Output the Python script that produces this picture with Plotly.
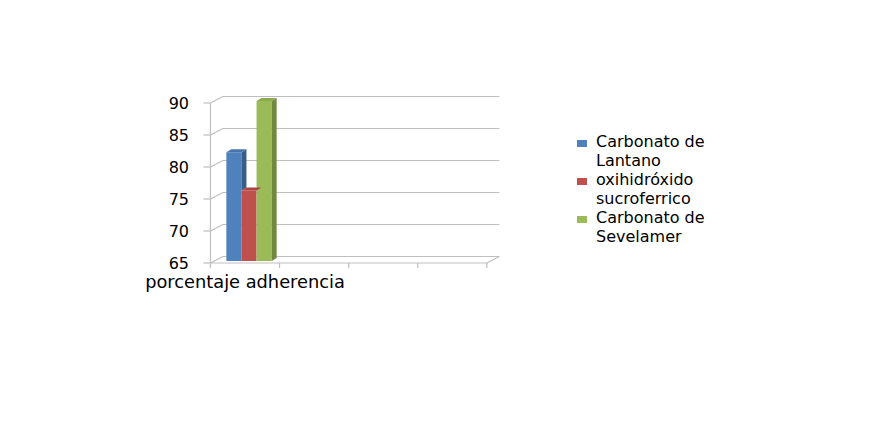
import textwrap
import plotly.graph_objects as go

# ---------------- data ----------------
categories = ["porcentaje adherencia", "", "", ""]
series_names = ["Carbonato de Lantano", "oxihidróxido sucroferrico", "Carbonato de Sevelamer"]
series_values = [82, 76, 90]
y_ticks = [65, 70, 75, 80, 85, 90]

# ---------------- styles ----------------
front_colors = ["#4F81BD", "#C0504D", "#9BBB59"]
side_colors = ["#385D8A", "#8C3836", "#71893F"]
top_colors = ["#4675AE", "#A94644", "#8BAA4E"]
grid_color = "#BFBFBF"
FONT = "DejaVu Sans"

W, H = 889, 428
OFF = 8                                      # page body margin of the html
PL, PR, PT, PB = 200, 505, 90, 269           # plot area (window px)
CAT0, CATW = 249.0, 69.1                     # bar-plane category 0 centre, category width (px)
BASE_PX, PXU = 261.0, 6.4                    # bar-plane pixel of axis minimum, px per unit
YMIN = y_ticks[0]
FX, FY = -4.0, 2.0                           # front plane offset from bar plane
BX, BY = 8.5, -4.5                           # back plane offset from bar plane
DX, DY = 5.0, -3.0                           # bar depth
BARGAP = 0.344


def x_of(px):
    return (px - CAT0) / CATW


def y_of(py):
    return YMIN + (BASE_PX - py) / PXU


def px_of(x):
    return CAT0 + x * CATW


def py_of(y):
    return BASE_PX - (y - YMIN) * PXU


def P(px, py):
    return f"{x_of(px):.5f},{y_of(py):.5f}"


def path(points):
    return "M" + " L".join(P(a, b) for a, b in points) + " Z"


def line(px0, py0, px1, py1, color=grid_color, width=1.2, layer="below"):
    return dict(type="line", xref="x", yref="y", x0=x_of(px0), y0=y_of(py0),
                x1=x_of(px1), y1=y_of(py1), line=dict(color=color, width=width), layer=layer)


fig = go.Figure()
n = len(series_values)
for name, val, col in zip(series_names, series_values, front_colors):
    fig.add_trace(go.Bar(x=[0], y=[val - YMIN], base=YMIN, name=name,
                         marker=dict(color=col, line=dict(width=0)), showlegend=False))

shapes = []
ncat = len(categories)
left_cat_px = px_of(-0.5)
right_cat_px = px_of(ncat - 0.5)
for t in y_ticks:
    yb = py_of(t)
    shapes.append(line(left_cat_px + BX, yb + BY, right_cat_px + BX, yb + BY))      # back wall
    shapes.append(line(left_cat_px + FX, yb + FY, left_cat_px + BX, yb + BY))       # side wall
    shapes.append(line(left_cat_px + FX - 7, yb + FY, left_cat_px + FX, yb + FY))   # tick
shapes.append(line(left_cat_px + FX, py_of(y_ticks[0]) + FY, left_cat_px + FX, py_of(y_ticks[-1]) + FY))
y0px = py_of(YMIN)
shapes.append(line(left_cat_px + FX, y0px + FY, right_cat_px + FX, y0px + FY))
shapes.append(line(right_cat_px + FX, y0px + FY, right_cat_px + BX, y0px + BY))
for k in range(ncat + 1):
    xk = px_of(k - 0.5) + FX
    shapes.append(line(xk, y0px + FY, xk, y0px + FY + 5))

# 3D bar faces
group_w = (1 - BARGAP) * CATW
bw = group_w / n
for i, val in enumerate(series_values):
    xl = CAT0 - group_w / 2 + i * bw
    xr = xl + bw
    yt = py_of(val)
    if i < n - 1:
        bottom = py_of(series_values[i + 1]) if series_values[i + 1] < val else None
    else:
        bottom = y0px
    if bottom is not None:
        shapes.append(dict(type="path", xref="x", yref="y", layer="above",
                           path=path([(xr, yt), (xr + DX, yt + DY), (xr + DX, bottom + DY), (xr, bottom)]),
                           fillcolor=side_colors[i], line=dict(width=0)))
    shapes.append(dict(type="path", xref="x", yref="y", layer="above",
                       path=path([(xl, yt), (xl + DX, yt + DY), (xr + DX, yt + DY), (xr, yt)]),
                       fillcolor=top_colors[i], line=dict(width=0)))

# legend
annotations = []


def paper_x(px):
    return (px - PL) / (PR - PL)


def paper_y(py):
    return (PB - py) / (PB - PT)


LEG_X, LEG_Y0, LEG_STEP, LINE_STEP = 577, 141.5, 38, 18.7
for i, name in enumerate(series_names):
    yc = LEG_Y0 + i * LEG_STEP
    shapes.append(dict(type="rect", xref="paper", yref="paper",
                       x0=paper_x(LEG_X), x1=paper_x(LEG_X + 10),
                       y0=paper_y(yc + 2 - 3.5), y1=paper_y(yc + 2 + 3.5),
                       fillcolor=front_colors[i], line=dict(width=0)))
    for j, ln in enumerate(textwrap.wrap(name, 12)):
        annotations.append(dict(xref="paper", yref="paper", x=paper_x(LEG_X + 18),
                                y=paper_y(yc + j * LINE_STEP), text=ln, showarrow=False,
                                xanchor="left", yanchor="middle", borderpad=0,
                                font=dict(family=FONT, size=16, color="#000000")))

fig.update_layout(
    width=W - 2 * OFF, height=H - 2 * OFF,
    margin=dict(l=PL - OFF, r=W - OFF - PR, t=PT - OFF, b=H - OFF - PB, pad=0),
    paper_bgcolor="white", plot_bgcolor="white",
    barmode="group", bargap=BARGAP, bargroupgap=0,
    showlegend=False,
    shapes=shapes, annotations=annotations,
    xaxis=dict(range=[x_of(PL), x_of(PR)], showgrid=False, zeroline=False, showline=False,
               tickvals=[k + FX / CATW for k in range(ncat)], ticktext=categories,
               ticks="", tickfont=dict(family=FONT, size=17.8, color="#000000"), ticklabelstandoff=0),
    yaxis=dict(range=[y_of(PB), y_of(PT)], showgrid=False, zeroline=False, showline=False,
               tickvals=y_ticks, ticks="", ticklabelshift=2, ticklabelstandoff=10,
               tickfont=dict(family=FONT, size=16, color="#000000")),
)

fig.write_html("out.html")
